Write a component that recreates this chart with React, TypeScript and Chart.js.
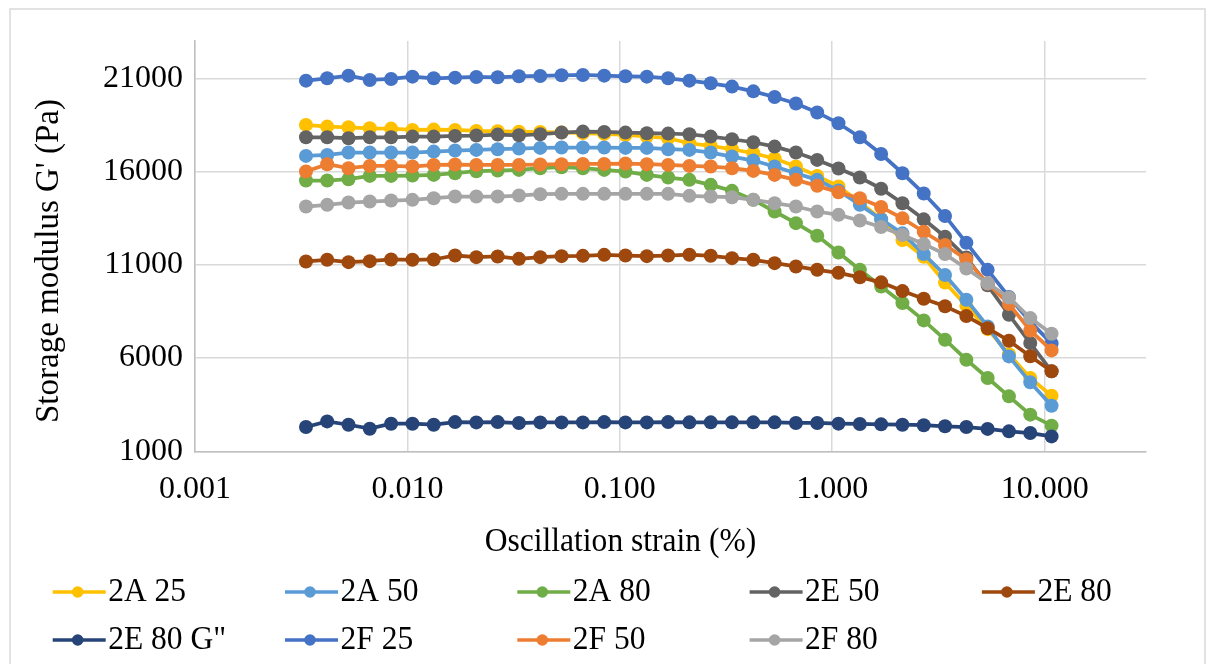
import React, { useEffect, useRef } from "react";
import { Chart, registerables } from "chart.js";

Chart.register(...registerables);

// Oscillation strain (%) — shared x values
const strain = [
  0.00333, 0.00419, 0.00528, 0.00665, 0.00838, 0.01056, 0.0133, 0.01676, 0.02111, 0.0266,
  0.0335, 0.04221, 0.05318, 0.067, 0.08441, 0.1063, 0.134, 0.1688, 0.2126, 0.2679,
  0.3373, 0.425, 0.5354, 0.6745, 0.8497, 1.07, 1.349, 1.699, 2.14, 2.696,
  3.396, 4.279, 5.391, 6.79, 8.555, 10.78,
];

const a25 = [
  18500, 18411, 18375, 18321, 18304, 18232, 18250, 18232, 18180, 18160,
  18140, 18120, 18100, 18060, 18020, 17960, 17880, 17786, 17518, 17375,
  17196, 16982, 16700, 16268, 15768, 15200, 14350, 13450, 12330, 11430,
  10050, 8800, 7550, 6200, 4930, 3980,
];
const a50 = [
  16839, 16893, 17018, 17018, 17018, 17018, 17071, 17125, 17161, 17196,
  17232, 17268, 17286, 17286, 17286, 17268, 17268, 17196, 17161, 17018,
  16804, 16589, 16268, 15911, 15554, 14982, 14214, 13446, 12685, 11574,
  10455, 9126, 7697, 6089, 4696, 3446,
];
const a80 = [
  15518, 15518, 15589, 15768, 15768, 15786, 15821, 15911, 16018, 16054,
  16089, 16179, 16232, 16179, 16089, 16000, 15821, 15679, 15554, 15286,
  14964, 14482, 13857, 13232, 12554, 11661, 10732, 9840, 8947, 8018,
  6982, 5911, 4928, 3946, 2964, 2375,
];
const e50 = [
  17839, 17839, 17786, 17839, 17839, 17875, 17875, 17911, 17929, 17982,
  17946, 18000, 18089, 18143, 18125, 18089, 18054, 18036, 18000, 17875,
  17732, 17571, 17339, 17018, 16625, 16161, 15679, 15080, 14300, 13437,
  12506, 11395, 9900, 8322, 6804, 5286,
];
const e80 = [
  11178, 11267, 11142, 11196, 11285, 11267, 11285, 11498, 11409, 11445,
  11320, 11409, 11463, 11480, 11534, 11498, 11463, 11498, 11540, 11482,
  11357, 11268, 11089, 10911, 10732, 10570, 10330, 10060, 9590, 9180,
  8780, 8250, 7600, 6930, 6100, 5290,
];
const e80g = [
  2301, 2603, 2425, 2212, 2478, 2478, 2425, 2567, 2550, 2567,
  2514, 2550, 2550, 2550, 2567, 2550, 2550, 2567, 2553, 2553,
  2553, 2553, 2553, 2518, 2518, 2482, 2464, 2445, 2425, 2400,
  2340, 2300, 2200, 2070, 1980, 1800,
];
const f25 = [
  20875, 21000, 21143, 20911, 20964, 21089, 21000, 21036, 21071, 21054,
  21107, 21125, 21161, 21179, 21143, 21107, 21089, 21000, 20875, 20732,
  20554, 20300, 20000, 19650, 19170, 18589, 17839, 16940, 15911, 14820,
  13620, 12180, 10730, 9280, 7950, 6780,
];
const f50 = [
  16000, 16393, 16179, 16304, 16304, 16268, 16357, 16375, 16357, 16357,
  16357, 16375, 16393, 16411, 16411, 16429, 16393, 16357, 16304, 16268,
  16179, 16036, 15821, 15554, 15232, 14893, 14571, 14100, 13491, 12774,
  12058, 11287, 10000, 8900, 7480, 6410,
];
const f80 = [
  14125, 14214, 14339, 14393, 14446, 14482, 14571, 14661, 14661, 14661,
  14714, 14786, 14804, 14804, 14804, 14804, 14804, 14804, 14696, 14661,
  14625, 14482, 14304, 14125, 13857, 13679, 13375, 13030, 12595, 12111,
  11574, 10803, 10010, 9250, 8143, 7304,
];

const seriesNames = ["2A 25", "2A 50", "2A 80", "2E 50", "2E 80", '2E 80 G"', "2F 25", "2F 50", "2F 80"];
const seriesValues = [a25, a50, a80, e50, e80, e80g, f25, f50, f80];
const seriesColors = ["#FFC000", "#5B9BD5", "#70AD47", "#636363", "#9E480E", "#264478", "#4472C4", "#ED7D31", "#A5A5A5"];

const xTicks = [0.001, 0.01, 0.1, 1, 10];
const yTicks = [1000, 6000, 11000, 16000, 21000];

const xTitle = "Oscillation strain (%)";
const yTitle = "Storage modulus G' (Pa)";

const FONT = "'Liberation Serif', 'Times New Roman', serif";
const W = 1215;
const H = 664;

export default function App() {
  const ref = useRef<HTMLCanvasElement>(null);

  useEffect(() => {
    const canvas = ref.current;
    if (!canvas) return;

    const framePlugin = {
      id: "frame",
      beforeDraw(chart: any) {
        const ctx = chart.ctx;
        ctx.save();
        ctx.fillStyle = "#ffffff";
        ctx.fillRect(0, 0, W, H);
        ctx.strokeStyle = "#d9d9d9";
        ctx.lineWidth = 1.5;
        ctx.strokeRect(10, 9, 1195, 700);
        ctx.restore();
      },
    };

    const textPlugin = {
      id: "texts",
      afterDraw(chart: any) {
        const ctx = chart.ctx;
        ctx.save();
        ctx.fillStyle = "#000000";
        ctx.textBaseline = "middle";
        ctx.textAlign = "center";

        // x axis title (slightly condensed like the reference)
        ctx.font = `33px ${FONT}`;
        ctx.save();
        ctx.translate(620.5, 542);
        ctx.scale(0.955, 1);
        ctx.fillText(xTitle, 0, 0);
        ctx.restore();

        // y axis title
        ctx.save();
        ctx.translate(49, 261);
        ctx.rotate(-Math.PI / 2);
        ctx.fillText(yTitle, 0, 0);
        ctx.restore();

        // legend
        const perRow = 5;
        const colStep = 232.3;
        const rowY = [592, 640];
        seriesNames.forEach((name, i) => {
          const row = Math.floor(i / perRow);
          const col = i % perRow;
          const x0 = 52.7 + col * colStep;
          const y = rowY[row];
          ctx.strokeStyle = seriesColors[i];
          ctx.lineWidth = 3.5;
          ctx.beginPath();
          ctx.moveTo(x0, y);
          ctx.lineTo(x0 + 53, y);
          ctx.stroke();
          ctx.fillStyle = seriesColors[i];
          ctx.beginPath();
          ctx.arc(x0 + 25, y, 5.8, 0, Math.PI * 2);
          ctx.fill();
          ctx.fillStyle = "#000000";
          ctx.textAlign = "left";
          ctx.save();
          ctx.translate(x0 + 55.5, y);
          ctx.scale(0.955, 1);
          ctx.fillText(name, 0, 0);
          ctx.restore();
        });
        ctx.restore();
      },
    };

    const datasets = seriesNames.map((name, i) => ({
      label: name,
      data: strain.map((x, j) => ({ x, y: seriesValues[i][j] })),
      borderColor: seriesColors[i],
      backgroundColor: seriesColors[i],
      pointBackgroundColor: seriesColors[i],
      pointBorderColor: seriesColors[i],
      pointBorderWidth: 0,
      pointRadius: 7,
      borderWidth: 3.75,
      tension: 0,
      order: seriesNames.length - i,
    }));

    const chart = new Chart(canvas, {
      type: "line",
      data: { datasets },
      options: {
        animation: false,
        responsive: false,
        devicePixelRatio: 1,
        layout: { padding: { left: 0, top: 41, right: 69, bottom: 0 } },
        plugins: {
          legend: { display: false },
          tooltip: { enabled: false },
          title: { display: false },
        },
        scales: {
          x: {
            type: "logarithmic",
            min: 0.001,
            max: 30,
            afterBuildTicks: (s: any) => {
              s.ticks = xTicks.map((v) => ({ value: v }));
            },
            afterFit: (s: any) => {
              s.height = H - 451.3;
            },
            grid: { color: "#d9d9d9", lineWidth: 1.5, drawTicks: false },
            border: { color: "#bfbfbf", width: 1.5 },
            ticks: {
              color: "#000000",
              font: { family: FONT, size: 32 },
              padding: 19.5,
              maxRotation: 0,
              autoSkip: false,
              callback: (v: any) => Number(v).toFixed(3),
            },
          },
          y: {
            type: "linear",
            min: 1000,
            max: 23000,
            afterBuildTicks: (s: any) => {
              s.ticks = yTicks.map((v) => ({ value: v }));
            },
            afterFit: (s: any) => {
              s.width = 195;
            },
            grid: { color: "#d9d9d9", lineWidth: 1.5, drawTicks: false },
            border: { color: "#bfbfbf", width: 1.5 },
            ticks: {
              color: "#000000",
              font: { family: FONT, size: 32 },
              padding: 12,
              callback: (v: any) => String(v),
            },
          },
        },
      },
      plugins: [framePlugin, textPlugin],
    });

    return () => chart.destroy();
  }, []);

  return (
    <div style={{ position: "absolute", left: 0, top: 0, width: W, height: H, background: "#fff" }}>
      <canvas ref={ref} width={W} height={H} style={{ display: "block", width: W, height: H }} />
    </div>
  );
}
